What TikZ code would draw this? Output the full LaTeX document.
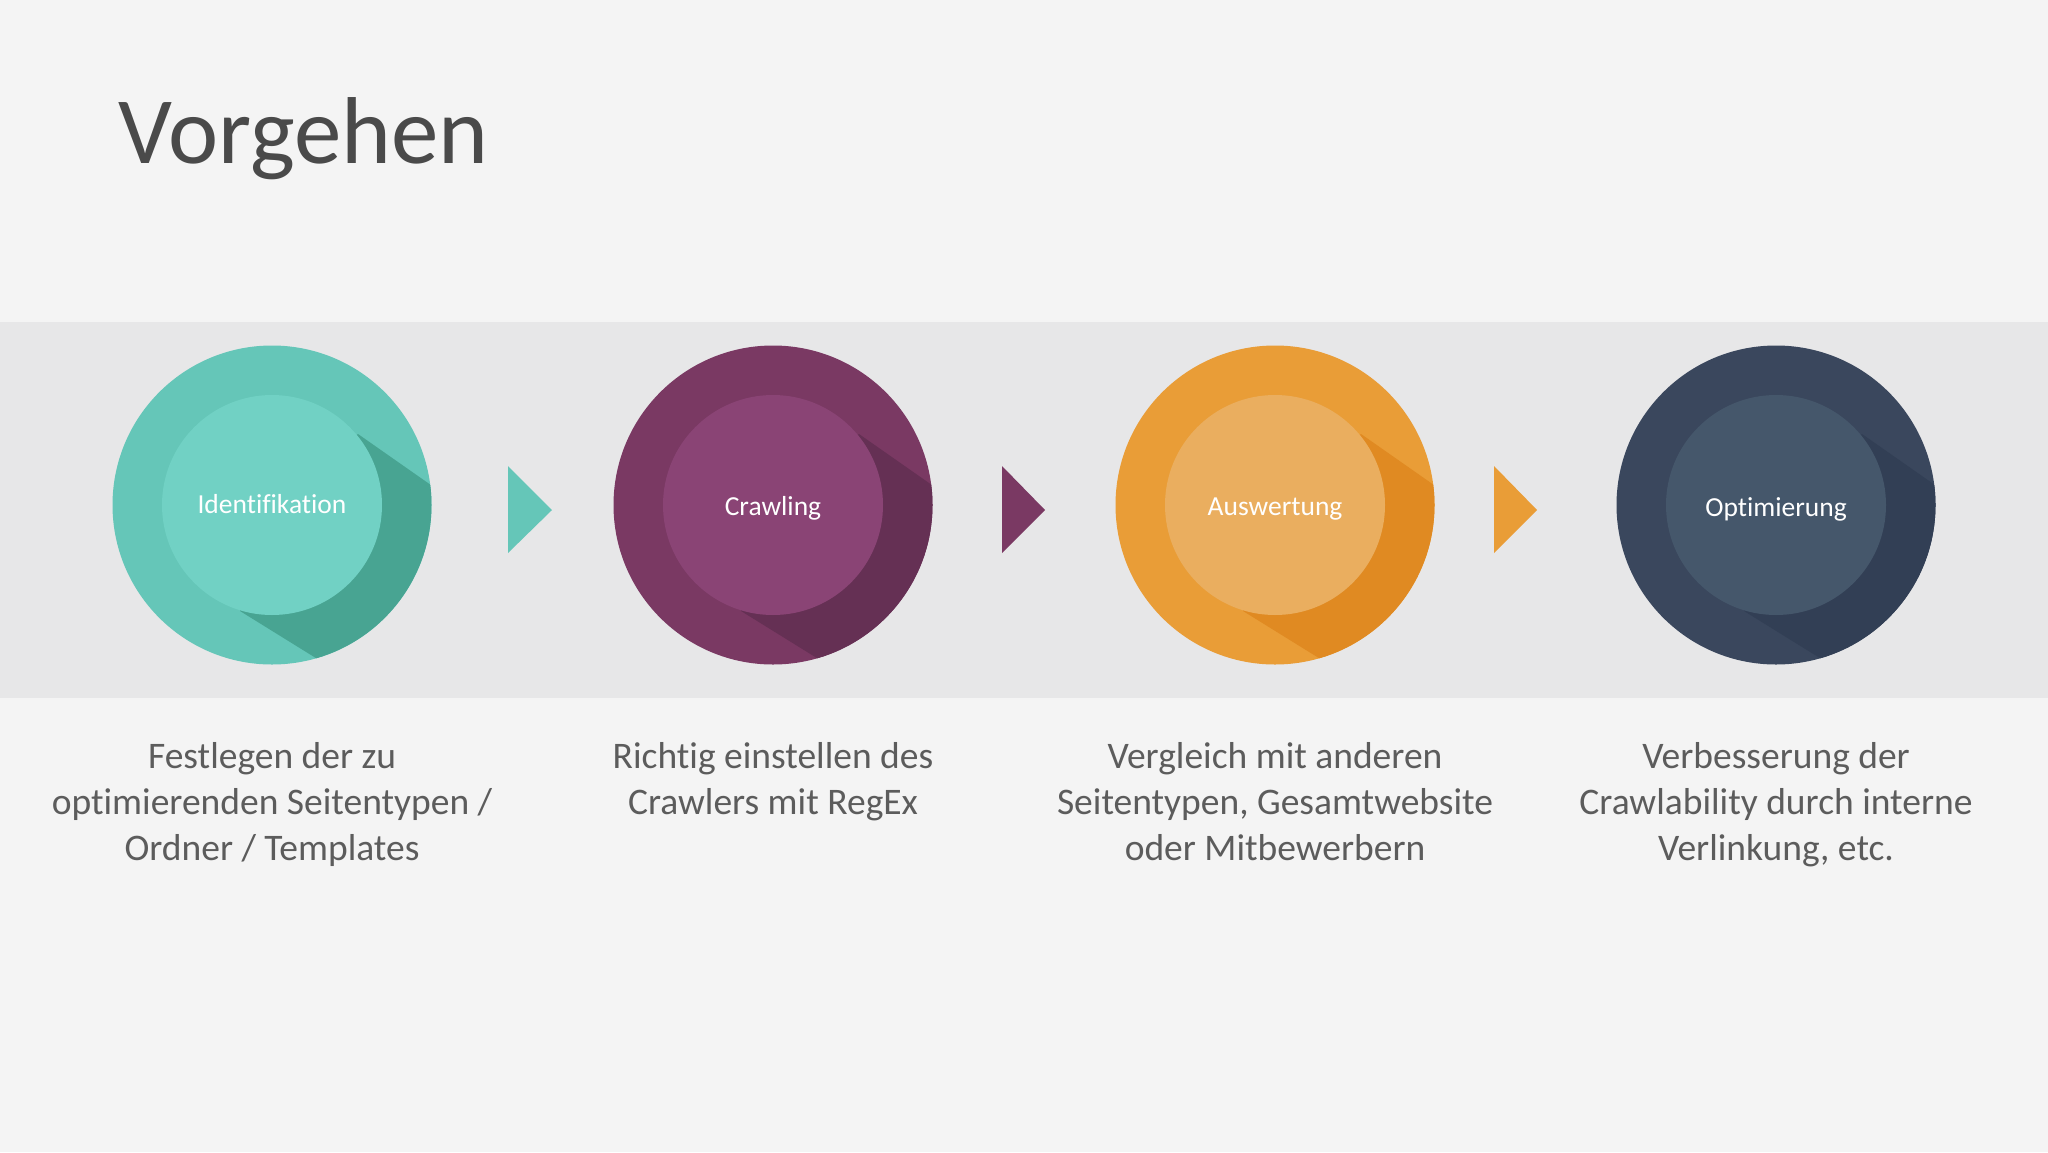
\documentclass[tikz,border=0pt]{standalone}
\usepackage{fontspec}
\setmainfont{Carlito}[Ligatures=NoCommon]
\definecolor{bg}{HTML}{F4F4F4}
\definecolor{band}{HTML}{E7E7E8}
\definecolor{titlec}{HTML}{4A4A4A}
\definecolor{descc}{HTML}{5C5C5C}
\definecolor{tealO}{HTML}{65C6B8}
\definecolor{tealI}{HTML}{71D1C4}
\definecolor{tealS}{HTML}{48A492}
\definecolor{purO}{HTML}{7A3963}
\definecolor{purI}{HTML}{8A4475}
\definecolor{purS}{HTML}{653054}
\definecolor{orgO}{HTML}{E99D37}
\definecolor{orgI}{HTML}{EAAE5F}
\definecolor{orgS}{HTML}{E08A22}
\definecolor{navO}{HTML}{3A475D}
\definecolor{navI}{HTML}{45576B}
\definecolor{navS}{HTML}{323F55}
\tikzset{
  outerc/.style={circle, inner sep=0pt, minimum size=319pt},
  innerc/.style={circle, inner sep=0pt, minimum size=220pt},
  lbl/.style={text=white, inner sep=0pt, anchor=base, font=\fontsize{27.5}{30}\selectfont},
  desc/.style={text=descc, inner sep=0pt, align=center, anchor=base, font=\fontsize{37.5}{46}\selectfont},
}
\newcommand\stage[7]{%
\begin{scope}[shift={(#2,505)}]
\node[outerc, fill=#3] (#1) at (0,0) {};
\begin{scope}
\clip (0,0) circle (159.5pt);
\fill[#5] (0,0) -- (86,-71) -- (386,139) -- (268,292) -- (-32,106) -- cycle;
\end{scope}
\node[innerc, fill=#4] (#1in) at (0,0) {};
\node[lbl] (#1lbl) at (0,#7) {#6};
\end{scope}}
\begin{document}
\begin{tikzpicture}[x=1pt,y=-1pt]
\useasboundingbox (0,0) rectangle (2048,1152);
\fill[bg] (0,0) rectangle (2048,1152);
\fill[band] (0,322) rectangle (2048,698);
\node[anchor=base west, inner sep=0pt, text=titlec, font=\fontsize{95}{100}\selectfont] (title) at (118,163.5) {Vorgehen};
\stage{s1}{272}{tealO}{tealI}{tealS}{Identifikation}{8.5}
\stage{s2}{773}{purO}{purI}{purS}{Crawling}{10}
\stage{s3}{1275}{orgO}{orgI}{orgS}{Auswertung}{10}
\stage{s4}{1776}{navO}{navI}{navS}{Optimierung}{11}
\fill[tealO] (508,466) -- (552,510) -- (508,553) -- cycle;
\fill[purO] (1002,466) -- (1045,510) -- (1002,553) -- cycle;
\fill[orgO] (1494,466) -- (1537,510) -- (1494,553) -- cycle;
\node[desc] (d1) at (272,860) {Festlegen der zu\\optimierenden Seitentypen /\\Ordner / Templates};
\node[desc] (d2) at (773,814) {Richtig einstellen des\\Crawlers mit RegEx};
\node[desc] (d3) at (1275,860) {Vergleich mit anderen\\Seitentypen, Gesamtwebsite\\oder Mitbewerbern};
\node[desc] (d4) at (1776,860) {Verbesserung der\\Crawlability durch interne\\Verlinkung, etc.};
\end{tikzpicture}
\end{document}
